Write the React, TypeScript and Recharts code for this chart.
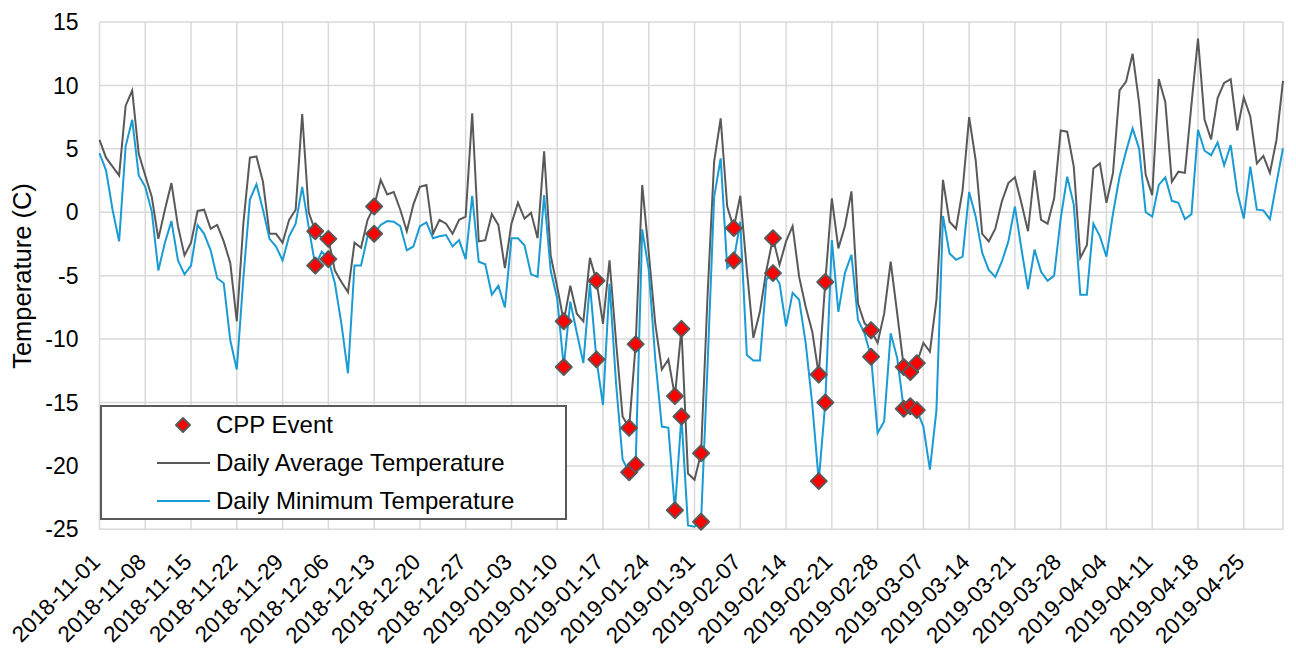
import React from 'react';
import { ComposedChart, Line, XAxis, YAxis, CartesianGrid } from 'recharts';

// Winter season 2018-11-01 .. 2019-05-01, one value per day (°C)
const START_DATE = Date.UTC(2018, 10, 1);
const DAY_MS = 86400000;

const dailyAverage = [
  5.7, 4.3, 3.6, 2.9, 8.4, 9.6, 4.6, 2.9, 1.2, -2.1,
  0.2, 2.3, -1.1, -3.4, -2.4, 0.1, 0.2, -1.3, -1.0, -2.3,
  -4.0, -8.6, -0.9, 4.3, 4.4, 2.4, -1.7, -1.7, -2.4, -0.6,
  0.2, 7.75, 0.0, -1.5, -2.0, -2.1, -4.6, -5.5, -6.3, -2.4,
  -2.8, -0.6, 0.45, 2.55, 1.4, 1.6, 0.2, -1.5, 0.6, 2.0,
  2.15, -1.7, -0.6, -0.9, -1.7, -0.6, -0.35, 7.8, -2.3, -2.2,
  -0.15, -1.0, -4.4, -0.9, 0.75, -0.5, -0.05, -2.05, 4.8, -3.4,
  -5.9, -8.6, -5.8, -8.0, -8.6, -3.6, -5.4, -8.8, -3.8, -10.2,
  -16.1, -17.0, -10.4, 2.15, -3.2, -8.8, -12.4, -11.6, -14.5, -9.2,
  -20.6, -21.1, -19.0, -6.5, 4.0, 7.4, 0.45, -1.25, 1.3, -4.55,
  -9.9, -7.85, -4.55, -2.05, -4.15, -2.3, -1.1, -5.1, -7.45, -9.4,
  -12.8, -5.5, 1.1, -2.85, -1.1, 1.65, -7.2, -8.75, -9.3, -10.3,
  -8.0, -3.9, -8.0, -12.2, -12.6, -11.9, -10.3, -11.0, -6.9, 2.55,
  -0.75, -1.3, 1.75, 7.5, 4.1, -1.7, -2.3, -1.3, 0.85, 2.3,
  2.75, 0.7, -1.5, 3.3, -0.6, -0.9, 1.1, 6.45, 6.35, 3.6,
  -3.6, -2.6, 3.45, 3.85, 0.75, 3.1, 9.6, 10.3, 12.5, 8.6,
  2.95, 1.35, 10.5, 8.7, 2.4, 3.2, 3.1, 8.5, 13.7, 7.3,
  5.75, 9.0, 10.2, 10.5, 6.45, 9.05, 7.55, 3.85, 4.45, 3.1,
  5.7, 10.35,
];

const dailyMinimum = [
  4.65, 3.3, 0.2, -2.3, 5.2, 7.3, 2.9, 2.0, 0.05, -4.6,
  -2.4, -0.7, -3.8, -4.9, -4.2, -1.0, -1.7, -3.0, -5.2, -5.6,
  -10.1, -12.4, -5.2, 1.0, 2.2, 0.2, -2.1, -2.7, -3.8, -1.9,
  -0.9, 2.0, -1.2, -4.2, -3.1, -3.7, -5.6, -8.8, -12.7, -4.2,
  -4.2, -1.9, -1.7, -1.0, -0.7, -0.75, -1.1, -3.0, -2.7, -1.1,
  -0.8, -2.05, -1.9, -1.8, -2.7, -2.2, -3.7, 1.3, -3.9, -4.1,
  -6.5, -5.8, -7.5, -2.05, -2.05, -2.6, -4.9, -5.1, 1.35, -4.6,
  -6.8, -12.2, -7.05, -9.5, -11.9, -5.65, -11.6, -15.2, -5.65, -13.5,
  -19.5, -20.5, -19.9, -1.35, -4.55, -11.6, -16.9, -17.0, -23.5, -16.1,
  -24.7, -24.8, -24.4, -12.0, 1.2, 4.25, -4.4, -3.8, -0.75, -11.25,
  -11.7, -11.7, -5.3, -4.8, -5.6, -9.0, -6.35, -6.9, -10.3, -15.1,
  -21.2, -15.0, -2.2, -7.85, -4.8, -3.35, -8.5, -9.55, -11.4, -17.4,
  -16.5, -9.55, -11.5, -15.5, -15.3, -15.6, -16.9, -20.3, -15.6, -0.3,
  -3.25, -3.75, -3.5, 1.6, -0.35, -3.2, -4.55, -5.1, -3.9, -2.3,
  0.45, -2.9, -6.05, -2.95, -4.7, -5.4, -5.0, -0.5, 2.8, 0.6,
  -6.5, -6.5, -0.9, -1.9, -3.5, -0.1, 2.8, 4.8, 6.6, 5.0,
  0.0, -0.35, 2.15, 2.75, 0.9, 0.75, -0.55, -0.15, 6.5, 4.85,
  4.5, 5.5, 3.7, 5.3, 1.6, -0.5, 3.6, 0.2, 0.15, -0.55,
  2.3, 5.05,
];

// Days (counted from 2018-11-01) with a critical peak pricing event
const cppEventDays = [33, 35, 42, 71, 76, 81, 82, 88, 89, 92, 97, 103, 110, 111, 118, 123, 124, 125];

const weeklyTickDays = [0, 7, 14, 21, 28, 35, 42, 49, 56, 63, 70, 77, 84, 91, 98, 105, 112, 119, 126, 133, 140, 147, 154, 161, 168, 175];
const temperatureTicks = [-25, -20, -15, -10, -5, 0, 5, 10, 15];

const FONT = '"Liberation Sans", Arial, Helvetica, sans-serif';
const AVG_COLOR = '#595959';
const MIN_COLOR = '#1a9bd3';
const GRID_COLOR = '#d9d9d9';

const dateLabel = (day: number) => new Date(START_DATE + day * DAY_MS).toISOString().slice(0, 10);

const chartData = dailyAverage.map((avg, day) => {
  const isEvent = cppEventDays.includes(day);
  return {
    day,
    avg,
    min: dailyMinimum[day],
    cppAvg: isEvent ? avg : null,
    cppMin: isEvent ? dailyMinimum[day] : null,
  };
});

const Diamond = ({ cx, cy, r }: { cx: number; cy: number; r: number }) => (
  <path
    d={`M${cx},${cy - r} L${cx + r},${cy} L${cx},${cy + r} L${cx - r},${cy} Z`}
    fill="#ff0000"
    stroke={AVG_COLOR}
    strokeWidth={2}
    strokeLinejoin="round"
  />
);

const eventDot = (props: any) => {
  const { cx, cy, index } = props;
  if (cy == null || Number.isNaN(cy) || props.value == null) return <g key={`e-${index}`} />;
  return (
    <g key={`e-${index}`}>
      <Diamond cx={cx} cy={cy} r={8} />
    </g>
  );
};

const DateTick = (props: any) => {
  const { x, y, payload } = props;
  const tx = x + 2;
  const ty = y + 32;
  return (
    <text
      x={tx}
      y={ty}
      transform={`rotate(-45 ${tx} ${ty})`}
      textAnchor="end"
      fontSize={22.5}
      fontFamily={FONT}
      fill="#000"
    >
      {dateLabel(payload.value)}
    </text>
  );
};

const AxisTitle = () => (
  <text
    x={31}
    y={276}
    transform="rotate(-90 31 276)"
    textAnchor="middle"
    fontSize={25.5}
    fontFamily={FONT}
    fill="#000"
  >
    Temperature (C)
  </text>
);

const LegendBox = () => {
  const rowText: React.CSSProperties = {
    position: 'absolute',
    left: 114,
    fontSize: 24,
    fontFamily: FONT,
    color: '#000',
    lineHeight: '28px',
    whiteSpace: 'nowrap',
  };
  return (
    <div
      style={{
        position: 'absolute',
        left: 100,
        top: 405,
        width: 467,
        height: 115,
        boxSizing: 'border-box',
        border: `2px solid ${AVG_COLOR}`,
        background: '#fff',
      }}
    >
      <svg width={467} height={115} style={{ position: 'absolute', left: -2, top: -2 }}>
        <Diamond cx={83} cy={20} r={7} />
        <line x1={57} y1={58} x2={110} y2={58} stroke={AVG_COLOR} strokeWidth={2} />
        <line x1={57} y1={96} x2={110} y2={96} stroke={MIN_COLOR} strokeWidth={2} />
      </svg>
      <div style={{ ...rowText, top: 4 }}>CPP Event</div>
      <div style={{ ...rowText, top: 42 }}>Daily Average Temperature</div>
      <div style={{ ...rowText, top: 80 }}>Daily Minimum Temperature</div>
    </div>
  );
};

export default function App() {
  return (
    <div style={{ position: 'absolute', left: 0, top: 0, width: 1296, height: 652, background: '#fff' }}>
      <ComposedChart
        width={1296}
        height={652}
        data={chartData}
        margin={{ top: 22, right: 13, bottom: 0, left: 0 }}
      >
        <CartesianGrid stroke={GRID_COLOR} strokeWidth={1.5} />
        <XAxis
          dataKey="day"
          type="number"
          domain={[0, 181]}
          ticks={weeklyTickDays}
          interval={0}
          tick={<DateTick />}
          tickLine={false}
          axisLine={false}
          tickSize={0}
          height={122.7}
        />
        <YAxis
          type="number"
          domain={[-25, 15]}
          ticks={temperatureTicks}
          interval={0}
          width={99.5}
          tickLine={false}
          axisLine={false}
          tickSize={0}
          tickMargin={21}
          tick={{ fontSize: 23, fontFamily: FONT, fill: '#000' }}
          label={AxisTitle}
        />
        <Line
          dataKey="avg"
          type="linear"
          stroke={AVG_COLOR}
          strokeWidth={2}
          dot={false}
          activeDot={false}
          isAnimationActive={false}
        />
        <Line
          dataKey="min"
          type="linear"
          stroke={MIN_COLOR}
          strokeWidth={2}
          dot={false}
          activeDot={false}
          isAnimationActive={false}
        />
        <Line
          dataKey="cppAvg"
          stroke="none"
          dot={eventDot}
          activeDot={false}
          isAnimationActive={false}
        />
        <Line
          dataKey="cppMin"
          stroke="none"
          dot={eventDot}
          activeDot={false}
          isAnimationActive={false}
        />
      </ComposedChart>
      <LegendBox />
    </div>
  );
}
